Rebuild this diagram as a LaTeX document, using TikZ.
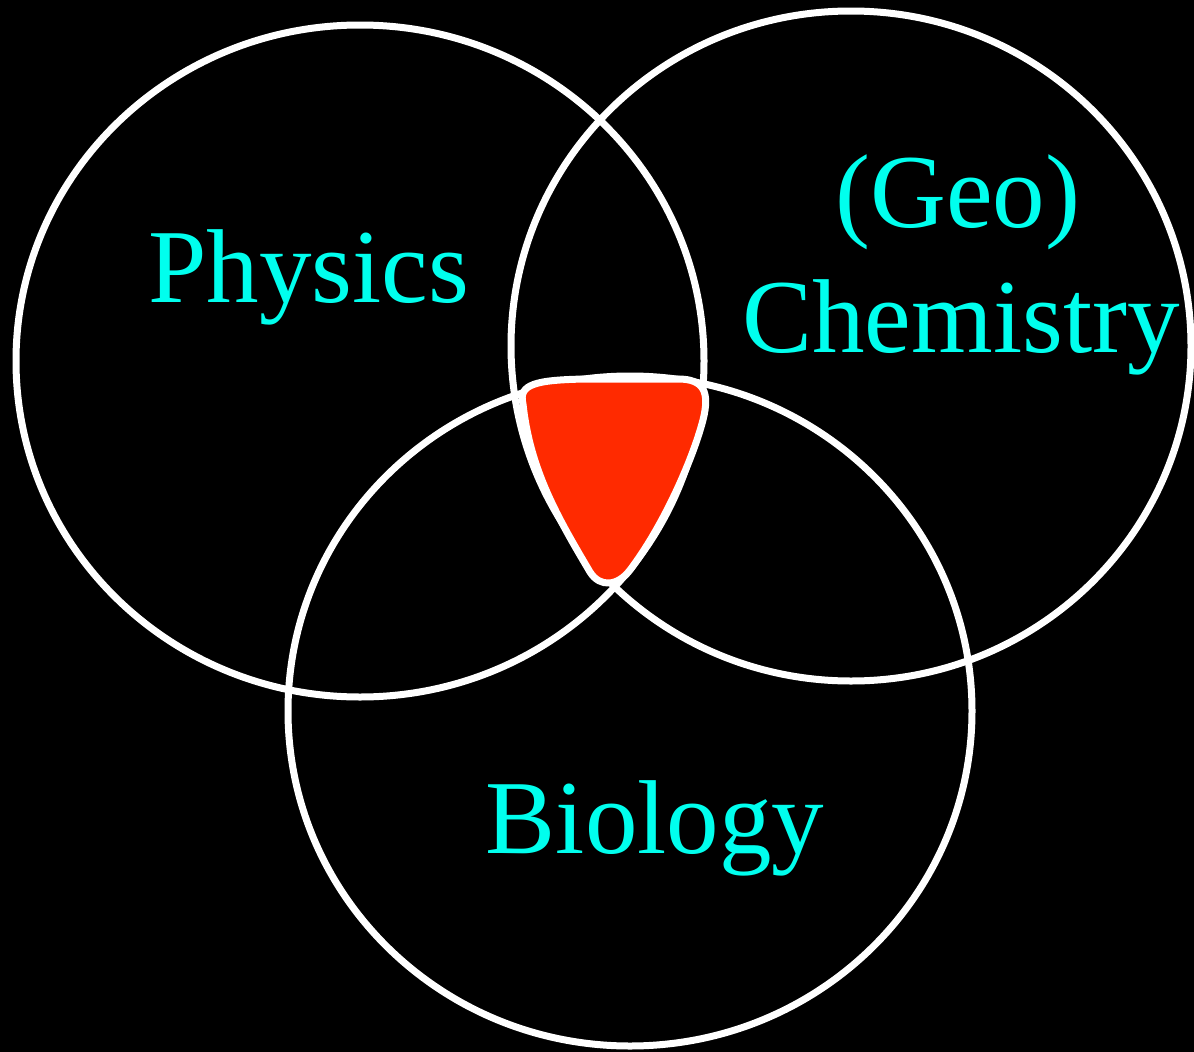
\documentclass[tikz,border=0pt]{standalone}
\usepackage{fontspec}
\setmainfont{Liberation Serif}
\usetikzlibrary{shapes.geometric}
\definecolor{labelcyan}{RGB}{0,255,238}
\definecolor{centerred}{RGB}{255,42,0}
\tikzset{
  setcircle/.style={ellipse, draw=white, line width=7pt, inner sep=0pt, outer sep=0pt},
  setlabel/.style={text=labelcyan, inner sep=0pt, anchor=base, font=\fontsize{105}{125}\selectfont},
  core/.style={fill=centerred, draw=white, line width=7pt, line join=round}
}
\begin{document}
\begin{tikzpicture}[x=1pt,y=-1pt]
\useasboundingbox (0,0) rectangle (1194,1052);
\fill[black] (0,0) rectangle (1194,1052);
\node[setcircle, minimum width=688pt, minimum height=672pt] (phys) at (360,361) {};
\node[setcircle, minimum width=680pt, minimum height=670pt] (chem) at (851,346) {};
\node[setcircle, minimum width=684pt, minimum height=670pt] (bio) at (630,711) {};
\draw[core] (523,404) .. controls (518,384) and (536,380) .. (585,379)
  -- (678,379) .. controls (704,379) and (710,392) .. (703,420)
  .. controls (692,462) and (662,528) .. (630,570)
  .. controls (618,586) and (600,588) .. (590,572)
  .. controls (558,518) and (530,470) .. (523,404) -- cycle;
\node[setlabel] (physlabel) at (309,302) {Physics};
\node[setlabel] (geolabel) at (958,227) {(Geo)};
\node[setlabel] (chemlabel) at (961,352) {Chemistry};
\node[setlabel] (biolabel) at (655,853) {Biology};
\end{tikzpicture}
\end{document}
